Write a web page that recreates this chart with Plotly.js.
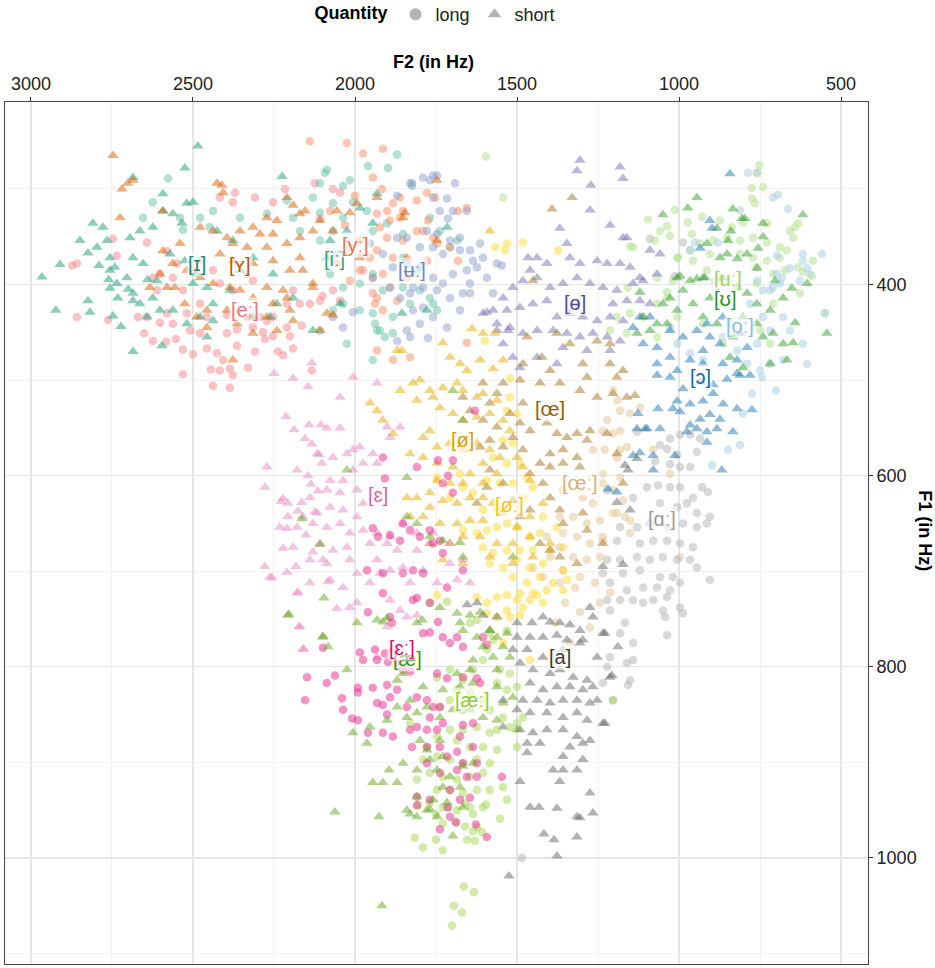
<!DOCTYPE html>
<html><head><meta charset="utf-8">
<script src="https://cdn.plot.ly/plotly-3.0.1.min.js"></script>
<style>html,body{margin:0;padding:0;background:#fff}</style>
</head><body>
<div id="chart" style="width:935px;height:968px"></div>
<script>
// ---- data: [F2, F1] in Hz ----
const I_SHORT = [[2966,392],[2910,379],[2923,427],[2818,429],[2685,470],[2596,464],[2485,255],[2525,278],[2685,288],[2593,305],[2225,287],[2849,354],[2809,336],[2778,340],[2765,354],[2824,367],[2796,361],[2756,372],[2741,382],[2756,385],[2735,399],[2756,404],[2732,414],[2704,393],[2685,409],[2664,420],[2642,434],[2624,414],[2611,396],[2654,378],[2685,372],[2694,351],[2664,344],[2624,340],[2593,323],[2562,326],[2519,315],[2500,314],[2534,336],[2571,368],[2525,375],[2488,389],[2500,399],[2457,403],[2438,420],[2478,434],[2438,438],[2457,455],[2519,441],[2562,427],[2602,427],[2386,406],[2315,434],[2241,420],[2191,414],[2130,448],[2087,372],[2077,354],[1985,320],[1932,305],[2025,344],[1945,336],[1716,340],[1855,430],[1778,427],[2046,420],[2426,344],[2377,354],[2315,372],[2253,389],[2355,385],[2262,434],[2747,433],[2824,417],[2722,444],[2685,417],[2700,405],[2760,395],[2790,380],[2640,395]];
const Y_SHORT = [[2747,265],[2719,300],[2685,291],[2701,294],[2725,330],[2593,323],[2426,294],[2411,296],[2407,304],[2210,309],[2191,317],[2272,330],[2241,333],[2170,326],[2154,323],[2108,333],[2056,323],[2016,325],[1932,309],[1747,291],[1846,325],[2478,340],[2438,344],[2395,351],[2355,344],[2315,340],[2293,347],[2253,347],[2377,357],[2333,361],[2272,361],[2210,357],[2170,351],[2130,344],[2417,368],[2377,375],[2315,378],[2253,375],[2170,372],[2540,357],[2562,378],[2519,385],[2478,393],[2438,399],[2386,403],[2355,406],[2315,414],[2272,403],[2222,406],[2201,385],[2161,385],[2130,399],[2210,414],[2253,420],[2201,427],[2191,438],[2272,434],[2324,434],[2364,441],[2395,427],[2457,427],[2488,434],[2525,420],[2580,403],[2633,403],[2602,389],[2556,403],[2457,445],[2377,479],[2315,451],[2241,448],[2087,430],[2068,432],[2108,448],[2130,403],[1994,315],[1985,372],[2068,344],[1840,372],[1852,330],[1747,354],[2593,365]];
const E_LONG = [[2858,434],[2762,437],[2651,451],[2624,459],[2583,460],[2553,457],[2531,468],[2500,473],[2457,467],[2426,472],[2407,479],[2386,488],[2377,495],[2330,487],[2386,508],[2438,506],[2445,489],[2531,494],[2417,490],[2364,464],[2309,470],[2278,457],[2238,470],[2222,474],[2191,467],[2201,454],[2253,454],[2284,450],[2315,445],[2364,447],[2395,451],[2478,451],[2509,448],[2562,441],[2602,440],[2642,434],[2670,434],[2580,430],[2519,430],[2457,434],[2395,432],[2333,434],[2272,438],[2210,445],[2164,443],[2139,420],[2108,417],[2133,490],[2858,378],[2873,380],[2747,352],[2735,370],[2642,356],[2611,406],[2562,393],[2531,406],[2478,420],[2478,375],[2417,309],[2370,304],[2377,314],[2309,309],[2253,314],[2216,300],[2124,294],[2068,300],[2046,304],[2108,331],[1975,385],[1945,409],[2068,406],[2046,417],[2100,412],[2191,406],[2170,420],[2315,396],[2333,389],[2377,406],[2417,399],[2438,385],[2500,385],[2549,378],[2580,365],[2602,389],[2624,393],[2293,434],[2253,434],[2210,420]];
const I_LONG = [[2577,289],[2624,314],[2540,330],[2654,330],[2531,343],[2478,330],[2448,340],[2087,280],[2093,283],[2037,297],[1960,276],[1898,278],[1870,264],[2016,291],[2068,315],[2108,325],[2006,314],[2037,330],[1963,323],[1945,344],[1901,336],[1852,347],[2068,344],[2108,354],[2016,361],[2056,368],[2077,389],[2037,403],[1985,399],[1945,389],[1914,406],[2037,420],[2068,427],[1985,427],[1945,430],[1932,448],[1883,451],[2025,462],[2108,448],[1830,420],[1800,406],[1759,420],[1707,361],[1738,344],[1769,330],[1809,385],[1852,372],[2170,344],[2191,330],[2210,312],[2130,309],[2272,326],[2355,330],[2438,323],[2108,294],[1824,297],[1938,441],[1923,448],[1945,479],[1908,455],[1883,434],[1769,414],[1747,427],[1685,354],[1852,403]];
const Y_LONG = [[1914,258],[1945,288],[1917,300],[1861,309],[1883,315],[1852,323],[1901,323],[1932,326],[1809,312],[1778,304],[1753,309],[1682,323],[1655,320],[1892,333],[1923,340],[1809,344],[1775,333],[1852,354],[1901,351],[1932,364],[1883,372],[1954,372],[1914,389],[1945,393],[1892,403],[1932,414],[1790,344],[1759,351],[1747,357],[1707,361],[1682,375],[1778,375],[1870,417],[1938,420],[1914,427],[1932,469],[1883,479],[1830,476],[1655,461],[2139,250],[2025,252],[1975,263],[1861,330],[2016,396],[1985,385],[2056,378],[1840,393],[2077,323],[2031,338],[1985,354],[2000,307]];
const U_BAR_LONG = [[1747,286],[1824,294],[1769,291],[1691,294],[1759,309],[1716,310],[1738,323],[1698,323],[1713,331],[1655,323],[1778,344],[1747,347],[1707,354],[1676,351],[1645,364],[1614,357],[1605,372],[1636,375],[1676,364],[1729,368],[1759,361],[1800,361],[1840,351],[1870,351],[1914,368],[1883,382],[1840,378],[1800,382],[1759,393],[1729,399],[1698,389],[1655,385],[1624,382],[1562,378],[1547,380],[1593,393],[1645,399],[1667,409],[1707,414],[1747,406],[1790,403],[1830,409],[1861,414],[1892,403],[1821,427],[1790,424],[1759,434],[1716,445],[1676,427],[1645,409],[1574,409],[1800,441],[1840,448],[1870,459],[1830,455],[1775,456],[1821,403],[1945,393],[1954,357],[2037,445],[2006,429],[2068,434],[1830,294],[1790,288],[1759,286],[1870,307]];
const O_BAR_SHORT = [[1306,270],[1315,281],[1182,277],[1173,289],[1272,296],[1275,322],[1368,341],[1213,338],[1173,351],[1346,357],[1438,372],[1466,372],[1408,378],[1337,372],[1306,378],[1253,375],[1222,378],[1182,378],[1151,382],[1090,364],[1059,368],[1068,389],[1111,396],[1142,399],[1513,403],[1543,414],[1482,396],[1438,393],[1398,403],[1358,399],[1315,393],[1275,399],[1235,403],[1192,406],[1204,420],[1161,417],[1121,417],[1090,420],[1408,417],[1451,420],[1491,424],[1531,427],[1574,427],[1605,430],[1377,434],[1337,430],[1297,434],[1253,438],[1213,434],[1173,438],[1389,448],[1346,451],[1306,455],[1266,451],[1222,455],[1182,459],[1438,448],[1482,451],[1522,445],[1562,448],[1358,466],[1284,469],[1213,469],[1377,483],[1491,487],[1438,476],[1460,385],[1593,429],[1562,441],[1528,448],[1543,462],[1513,476],[1121,393],[1161,351]];
const U_LONG = [[752,275],[759,283],[775,299],[741,298],[775,310],[766,315],[1096,332],[1013,322],[1037,339],[973,335],[960,347],[929,329],[874,333],[837,340],[803,335],[729,336],[1074,354],[1028,349],[935,357],[895,354],[852,351],[812,354],[772,351],[729,356],[689,361],[648,351],[642,340],[633,336],[658,344],[667,364],[1003,372],[957,375],[905,368],[812,368],[772,372],[729,375],[689,372],[633,382],[587,375],[1068,393],[1019,396],[914,385],[874,393],[760,382],[710,389],[673,385],[618,387],[590,391],[1158,403],[1037,408],[760,399],[1142,361],[1596,266],[1543,309],[1059,344],[1151,360],[1006,372],[966,364],[627,409],[550,430],[710,420],[750,448],[719,462],[865,462],[926,441],[1006,434],[1037,414],[1068,420],[1111,434],[1151,430],[1192,434],[1213,448],[1161,451],[1068,455],[874,420]];
const UPS_SHORT = [[945,309],[1050,327],[973,320],[834,321],[806,331],[797,331],[741,336],[618,327],[883,341],[840,344],[849,354],[741,350],[914,357],[874,372],[852,368],[790,368],[756,362],[821,373],[1121,408],[997,391],[945,394],[920,393],[760,383],[704,396],[652,404],[605,399],[544,451],[642,440],[648,461],[679,414],[719,427],[760,420],[790,409],[821,403],[865,393],[926,393],[966,396],[1006,393],[988,406],[1028,414],[1050,420],[1006,427],[957,420],[905,414],[926,434],[883,441],[803,434],[760,441],[741,455],[834,455],[710,451],[679,462],[1068,441],[1111,434],[1090,448],[1130,451],[1037,441],[719,483],[803,487],[843,476],[667,479]];
const O_LONG = [[787,283],[759,283],[710,309],[695,306],[664,321],[812,322],[951,356],[966,364],[880,356],[698,370],[618,368],[559,368],[618,375],[658,383],[596,389],[627,396],[682,393],[710,403],[741,406],[821,403],[889,396],[605,383],[698,389],[689,399],[719,406],[759,396],[781,420],[741,434],[679,434],[658,448],[719,448],[759,462],[821,469],[865,455],[843,441],[679,479],[719,483],[550,430],[790,483],[750,490],[926,479],[966,472],[1006,462],[1028,445],[618,462],[605,483],[701,511],[803,535],[849,573],[812,568],[898,589],[744,497],[775,514]];
const OPEN_O_SHORT = [[1068,495],[1028,497],[988,509],[935,502],[895,505],[852,499],[812,495],[781,495],[1065,530],[1019,530],[966,525],[926,522],[895,514],[864,525],[821,530],[775,531],[1130,551],[1099,551],[1059,551],[997,533],[966,547],[935,541],[905,536],[874,541],[945,551],[914,554],[883,551],[834,554],[976,554],[914,565],[1142,579],[1080,579],[1013,579],[868,594],[1080,594],[1121,576],[1219,614],[1192,617],[1006,522],[843,284],[905,333],[935,362],[898,341],[1090,434],[1028,448],[988,455],[945,448],[905,455],[874,462],[926,469],[966,479],[926,483],[865,483],[821,479],[1028,476],[1068,483],[1111,462],[1121,434],[1142,445],[1068,466],[821,493],[1006,490],[812,451],[865,434],[790,466],[914,441],[1127,535],[1105,551]];
const OE_SHORT = [[1491,500],[1429,503],[1368,503],[1306,511],[1253,518],[1204,514],[1161,518],[1136,516],[1482,524],[1522,535],[1491,545],[1460,553],[1408,545],[1377,556],[1346,560],[1315,556],[1284,563],[1275,553],[1358,573],[1398,577],[1429,587],[1398,591],[1358,587],[1315,581],[1306,591],[1192,577],[1222,556],[1562,514],[1584,524],[1543,503],[1605,503],[1667,518],[1645,532],[1605,542],[1562,549],[1513,560],[1543,570],[1584,563],[1614,570],[1482,573],[1460,598],[1420,608],[1398,623],[1368,636],[1358,650],[1297,639],[1284,657],[1235,671],[1460,636],[1491,643],[1513,626],[1543,608],[1584,594],[1593,612],[1624,629],[1315,692],[1398,678],[1368,685],[1429,671],[1173,608],[1330,309],[1392,321],[1451,396],[1423,476],[1469,455],[1377,451],[1337,462],[1297,483],[1253,459],[1213,462],[1482,483],[1398,490],[1284,497],[1213,483],[1173,490],[1192,497]];
const OSL_SHORT = [[1954,524],[1932,532],[1914,542],[1883,556],[1861,511],[1821,503],[1800,500],[1809,521],[1769,511],[1759,518],[1729,508],[1685,503],[1667,511],[1624,518],[1605,514],[1562,521],[1738,529],[1698,535],[1667,542],[1624,539],[1584,535],[1543,542],[1522,553],[1769,553],[1790,560],[1747,570],[1707,566],[1667,573],[1624,566],[1584,573],[1553,581],[1830,577],[1790,581],[1747,587],[1698,591],[1645,598],[1605,587],[1562,598],[1500,581],[1482,591],[1460,605],[1747,605],[1707,608],[1667,608],[1605,608],[1769,618],[1729,626],[1685,629],[1645,623],[1605,623],[1574,629],[1769,633],[1809,623],[1840,623],[1830,643],[1790,643],[1738,650],[1685,650],[1645,647],[1605,647],[1543,639],[1500,654],[1460,643],[1420,629],[1769,671],[1707,671],[1667,664],[1614,664],[1562,671],[1513,671],[1460,664],[1729,688],[1667,692],[1584,685],[1513,692],[1451,685],[1398,671],[1584,344],[1639,446],[1605,451],[1568,451],[1729,461],[1870,469],[1855,469],[1707,476],[1676,483],[1614,479],[1574,488],[1543,479],[1655,490]];
const OE_LONG = [[1182,532],[1151,535],[1120,529],[1204,556],[1161,570],[1235,608],[1204,615],[1173,626],[1266,629],[1297,623],[1358,615],[1368,643],[1327,643],[1284,650],[1244,647],[1192,639],[1151,647],[1358,660],[1315,664],[1275,671],[1235,668],[1368,675],[1327,685],[1284,688],[1244,685],[1408,664],[1398,685],[1358,699],[1306,706],[1368,712],[1420,706],[1451,696],[1266,573],[1182,573],[1204,511],[1189,521],[1222,542],[1235,553],[1182,553],[1229,573],[1192,581],[1235,598],[1182,602],[1204,639],[1151,660],[1235,664],[1080,573],[1028,598],[997,685],[1167,643],[1352,733],[1306,743],[1275,759],[1337,775],[1383,754],[1244,733],[1213,722],[1260,712],[1321,717]];
const EPS_SHORT = [[2133,482],[2250,493],[2191,498],[2145,507],[2213,538],[2142,547],[2105,547],[2188,552],[2154,561],[2133,567],[2111,578],[2102,587],[2272,591],[2278,612],[2145,600],[2136,609],[2114,616],[2228,627],[2207,629],[2164,628],[2176,637],[2124,638],[2207,643],[2179,654],[2210,655],[2151,662],[2222,676],[2130,680],[2099,688],[2278,695],[2256,707],[2210,701],[2182,695],[2176,722],[2083,711],[2173,758],[2158,781],[2046,518],[2006,497],[1932,503],[2087,550],[2046,550],[2117,577],[2068,581],[2025,577],[2006,573],[1985,570],[1945,577],[1901,549],[1892,560],[1861,549],[1975,587],[1932,587],[2006,594],[2037,605],[2077,605],[2179,594],[2222,624],[2139,623],[2087,615],[2046,618],[1994,615],[1975,629],[1994,643],[2037,636],[2077,633],[2117,639],[2161,643],[2232,654],[2130,650],[2087,654],[2046,650],[2016,660],[1975,657],[1932,660],[1892,664],[1852,650],[1809,660],[1759,660],[2191,675],[2108,671],[2068,678],[2025,675],[1954,671],[1901,671],[1870,678],[1809,678],[1769,671],[1707,671],[2139,688],[2087,692],[2016,688],[1932,688],[1852,696],[1790,699],[1707,692],[1667,688],[2262,706],[2139,712],[2077,709],[2037,717],[1954,712],[1892,699],[1830,712],[1747,712],[1685,709],[1645,712],[1994,702],[1923,702],[2179,723],[2056,739],[2016,738],[1994,733],[1892,730],[1861,741],[1840,748],[1809,746],[2170,758],[2161,782],[1932,790],[1901,758]];
const OSL_LONG = [[1531,532],[1500,535],[1543,563],[1513,566],[1574,581],[1531,587],[1491,587],[1469,602],[1513,608],[1553,608],[1593,605],[1636,618],[1667,612],[1676,598],[1605,636],[1562,636],[1513,626],[1482,623],[1451,612],[1420,643],[1377,654],[1429,660],[1460,664],[1500,654],[1531,650],[1562,654],[1593,657],[1605,675],[1574,681],[1531,678],[1491,678],[1451,678],[1398,678],[1358,675],[1584,692],[1543,696],[1500,688],[1460,696],[1420,692],[1358,699],[1513,706],[1469,712],[1429,706],[1389,712],[1346,709],[1491,723],[1451,723],[1408,720],[1358,720],[1667,657],[1624,660],[1707,623],[1747,602],[1522,518],[1624,727],[1593,733],[1562,727],[1531,725],[1500,730],[1482,738],[1460,730],[1438,725],[1420,733],[1531,741],[1593,744],[1522,748],[1491,746],[1562,748],[1543,775],[1460,793],[1747,725],[1568,361],[1537,364],[1531,357],[1482,356],[1374,364],[1522,498],[1599,459]];
const A_BACK_LONG = [[1130,554],[1059,568],[1028,561],[997,557],[966,557],[935,561],[1037,572],[1006,578],[945,575],[1074,585],[1028,588],[997,591],[966,591],[1099,612],[1065,610],[1028,612],[997,612],[957,623],[929,612],[911,617],[1222,615],[1142,623],[1059,629],[1006,633],[976,629],[945,639],[905,643],[1130,654],[1090,650],[1037,654],[988,650],[945,654],[914,650],[1182,654],[1192,668],[1121,671],[1080,668],[1037,668],[997,671],[957,675],[1222,688],[1182,688],[1130,685],[1090,688],[1050,685],[1006,688],[966,688],[945,696],[1235,702],[1173,702],[1121,699],[1059,706],[1019,706],[905,709],[1213,712],[1161,720],[1111,717],[1068,717],[1028,720],[997,712],[1222,730],[1182,730],[1142,730],[1080,730],[1037,727],[997,738],[1213,741],[1111,733],[1050,741],[988,744],[1167,754],[1043,748],[1182,765],[1142,775],[1037,767],[1213,790],[1161,796],[1142,793],[1222,800],[1151,814],[1158,819],[1235,817],[1204,835],[1485,1000],[1090,352],[988,356],[1013,391]];
const A_SHORT = [[1654,735],[1623,733],[1605,746],[1562,748],[1500,754],[1454,754],[1420,748],[1398,753],[1368,754],[1337,756],[1306,762],[1275,738],[1266,748],[1584,762],[1500,769],[1460,769],[1420,769],[1377,767],[1346,772],[1297,772],[1235,765],[1189,779],[1513,782],[1469,782],[1420,790],[1358,782],[1306,775],[1253,790],[1491,796],[1451,803],[1398,807],[1368,803],[1327,811],[1284,814],[1213,811],[1460,817],[1420,824],[1377,821],[1337,821],[1297,824],[1266,821],[1482,835],[1438,835],[1398,838],[1358,835],[1315,835],[1275,838],[1253,835],[1543,835],[1500,845],[1460,848],[1408,848],[1358,853],[1315,848],[1284,856],[1235,859],[1543,863],[1491,866],[1451,869],[1408,866],[1358,866],[1315,873],[1275,877],[1469,880],[1429,880],[1337,884],[1297,880],[1469,890],[1358,894],[1297,897],[1389,908],[1358,908],[1315,908],[1491,920],[1368,920],[1275,932],[1460,947],[1377,948],[1315,957],[1432,947],[1306,958],[1266,953],[1417,975],[1386,981],[1315,978],[1377,998],[1525,1019],[1130,582],[1167,589],[1158,594],[1192,628],[1151,636],[1235,695],[1173,693],[1229,765],[1207,809],[1229,859]];
const EPS_LONG = [[1630,532],[1744,584],[1914,581],[1809,591],[1908,603],[1698,584],[1713,600],[1729,608],[1698,618],[1945,655],[1929,664],[1892,662],[1861,668],[1852,650],[1830,657],[1800,664],[1769,657],[1759,671],[1738,668],[1963,699],[1914,702],[1852,702],[1821,699],[1790,702],[1716,717],[1729,681],[1667,699],[1914,723],[1960,743],[1892,748],[1886,754],[1821,730],[1809,728],[1769,733],[1744,753],[1790,765],[1769,764],[1729,769],[1707,775],[1685,769],[1667,779],[1605,769],[1593,777],[2099,780],[1985,785],[1975,793],[1938,782],[1908,786],[1883,782],[1852,786],[1932,793],[1898,795],[1870,795],[1852,803],[1830,805],[2148,811],[2087,817],[2062,809],[1991,822],[1991,827],[1945,822],[1901,819],[1870,824],[1892,832],[1747,807],[1716,812],[1667,811],[1624,812],[1614,817],[2154,835],[2040,833],[2037,845],[2009,854],[1991,856],[1932,838],[1914,840],[1901,850],[1840,842],[1809,832],[1778,835],[1759,842],[1738,842],[1769,853],[1729,859],[1809,863],[1830,866],[1778,866],[1747,866],[1667,861],[1636,859],[1960,869],[1914,869],[1883,873],[1824,884],[1778,884],[1738,884],[1676,873],[1636,884],[1778,901],[1716,894],[1685,889],[1667,901],[1624,901],[1738,911],[1685,908],[1655,915],[1624,915],[1547,915],[1809,936],[1769,939],[1707,929],[1676,939],[1645,937],[1713,947],[1707,957],[1809,945],[1738,970],[1688,963],[1627,965],[1593,978]];
const AE_SHORT = [[2207,746],[2099,769],[2083,779],[2025,803],[1932,751],[1994,754],[1914,753],[1901,749],[1809,754],[1793,751],[1738,738],[1685,744],[1676,754],[1645,746],[1614,743],[1584,762],[1562,769],[1531,765],[1543,779],[1605,779],[1624,769],[1667,762],[1522,790],[1574,790],[1636,793],[1645,803],[1685,807],[1830,793],[1852,807],[1870,814],[1790,821],[1729,824],[1676,821],[1636,817],[1562,803],[1562,821],[1513,832],[1830,835],[1870,842],[1840,853],[1809,848],[1778,842],[1738,853],[1698,845],[1645,845],[1605,853],[1562,856],[1543,838],[1500,866],[1901,856],[1954,863],[2006,869],[1963,880],[1800,877],[1738,877],[1778,887],[1729,894],[1769,897],[1852,901],[1809,908],[1747,908],[1707,915],[1667,904],[1636,901],[1895,908],[1945,921],[1914,921],[1870,921],[1809,936],[1759,939],[1729,926],[1676,926],[1716,942],[1667,947],[1840,950],[1778,950],[2062,952],[1809,957],[1747,957],[1926,957],[1830,954],[1769,949],[1698,977],[1917,1050],[2164,645],[2108,672],[2096,728],[2204,745],[2099,768],[1698,511],[1667,542],[2025,594],[1840,602],[1840,643],[1809,650],[1769,664],[1729,668],[1676,670],[1667,685],[1513,685]];
const AE_LONG = [[1769,733],[1716,732],[1645,754],[1624,751],[1584,765],[1574,772],[1531,762],[1593,782],[1605,793],[1553,803],[1522,807],[1562,817],[1531,824],[1500,821],[1636,803],[1667,814],[1707,803],[1747,811],[1685,824],[1645,827],[1605,835],[1584,845],[1543,853],[1667,845],[1707,835],[1738,842],[1624,863],[1667,866],[1707,866],[1584,869],[1562,866],[1522,863],[1747,873],[1685,877],[1645,884],[1605,884],[1562,887],[1500,884],[1778,884],[1790,897],[1747,894],[1707,897],[1667,901],[1624,897],[1584,901],[1605,911],[1645,915],[1685,918],[1729,915],[1769,911],[1809,918],[1747,929],[1707,929],[1667,932],[1624,929],[1584,929],[1543,926],[1769,942],[1729,947],[1685,950],[1645,947],[1605,947],[1531,939],[1204,835],[1830,859],[1500,859],[1482,853],[1805,945],[1716,947],[1660,943],[1596,944],[1553,959],[1636,954],[1691,962],[1660,967],[1623,968],[1750,954],[1729,964],[1636,972],[1608,973],[1815,979],[1750,981],[1654,981],[1630,982],[1790,989],[1729,992],[1664,1030],[1633,1036],[1695,1050],[1670,1057],[1701,1071]];

// vowel labels and their positions (Hz)
const LABEL_TEXT = ['[iː]','[yː]','[ɪ]','[ʏ]','[eː]','[ʉː]','[ɵ]','[uː]','[ʊ]','[oː]','[ɔ]','[œ]','[ø]','[œː]','[ɛ]','[øː]','[ɑː]','[æ]','[ɛː]','[a]','[æː]'];
const LABEL_F2 = [2062,2000,2488,2355,2340,1824,1321,849,858,812,935,1398,1667,1306,1929,1522,1053,1837,1855,1368,1639];
const LABEL_F1 = [373,359,378,380,427,385,419,394,415,443,497,530,563,608,620,631,645,792,780,790,835];
const QUANTITY = ['long','short'];

// ---- styling ----
const LABEL_COLORS = ['#2FA47F','#FC6F3C','#1B8A68','#C5530A','#F2707C','#6E86BE','#4E479E','#9CD262','#2E8E22','#89BEDD',
  '#1A65A0','#8C5C0C','#E39B00','#D8B07A','#D663A9','#FFC400','#9B9B9B','#3F8F0F','#D60E72','#3A3A3A','#8FCB2E'];
const TRACES = [
  [E_LONG,'#F7868C','circle'],[I_LONG,'#66C2A5','circle'],[Y_LONG,'#FC8D62','circle'],
  [U_BAR_LONG,'#8DA0CB','circle'],[U_LONG,'#B2DF8A','circle'],[O_LONG,'#A6CEE3','circle'],
  [OE_LONG,'#E5C494','circle'],[OSL_LONG,'#FFD92F','circle'],[A_BACK_LONG,'#B3B3B3','circle'],
  [I_SHORT,'#1B9E77','triangle-up'],[Y_SHORT,'#D95F02','triangle-up'],[O_BAR_SHORT,'#7570B3','triangle-up'],
  [UPS_SHORT,'#33A02C','triangle-up'],[OPEN_O_SHORT,'#1F78B4','triangle-up'],[OE_SHORT,'#A6761D','triangle-up'],
  [OSL_SHORT,'#E6AB02','triangle-up'],[EPS_SHORT,'#E78AC3','triangle-up'],[A_SHORT,'#666666','triangle-up'],
  [AE_LONG,'#A6D854','circle'],[EPS_LONG,'#E7298A','circle'],[AE_SHORT,'#66A61E','triangle-up']
];

const FONT = '"Liberation Sans", Arial, "DejaVu Sans", sans-serif';
const data = TRACES.map(([pts,color,sym]) => ({
  type:'scatter', mode:'markers', showlegend:false, hoverinfo:'skip',
  x: pts.map(p=>p[0]), y: pts.map(p=>p[1]),
  marker:{symbol:sym, color:color, opacity:0.5, size: sym==='circle'?8.5:10, line:{width:0}}
}));
QUANTITY.forEach((q,i)=>{
  data.push({type:'scatter', mode:'markers', name:q, x:[null], y:[null], showlegend:true,
    marker:{symbol: i===0?'circle':'triangle-up', color:'#777', opacity:0.55, size:8, line:{width:0}}});
});

const annotations = LABEL_TEXT.map((t,i)=>({
  x: LABEL_F2[i], y: LABEL_F1[i], xref:'x', yref:'y', text: t,
  showarrow:false, font:{family:FONT, size:20, color:LABEL_COLORS[i]},
  bgcolor:'rgba(255,255,255,0.6)', borderpad:1
}));
annotations.push({xref:'paper', yref:'paper', x:0.496, y:1.046, text:'<b>F2 (in Hz)</b>', showarrow:false,
  font:{family:FONT, size:18, color:'#000'}, xanchor:'center', yanchor:'middle'});
annotations.push({xref:'paper', yref:'paper', x:1.066, y:0.502, text:'<b>F1 (in Hz)</b>', showarrow:false,
  textangle:90, font:{family:FONT, size:18, color:'#000'}, xanchor:'center', yanchor:'middle'});

const layout = {
  width:935, height:968,
  margin:{l:5, r:67, t:102, b:4, autoexpand:false},
  paper_bgcolor:'#fff', plot_bgcolor:'#fff',
  font:{family:FONT, size:18, color:'#222'},
  xaxis:{side:'top', range:[3080,417], tickvals:[3000,2500,2000,1500,1000,500], ticktext:['3000','2500','2000','1500','1000','500'],
    ticks:'outside', ticklen:4, tickcolor:'#333', tickfont:{size:18, color:'#222'}, automargin:false,
    showgrid:true, gridcolor:'#E6E6E6', gridwidth:1.4,
    minor:{tickvals:[2750,2250,1750,1250,750], showgrid:true, gridcolor:'#EFEFEF', gridwidth:0.8, ticks:''},
    showline:true, mirror:true, linecolor:'#444', linewidth:1, zeroline:false, fixedrange:true},
  yaxis:{side:'right', range:[1111,209], tickvals:[400,600,800,1000], ticktext:['400','600','800','1000'],
    ticks:'outside', ticklen:4, tickcolor:'#333', tickfont:{size:18, color:'#222'}, automargin:false,
    showgrid:true, gridcolor:'#E6E6E6', gridwidth:1.4,
    minor:{tickvals:[300,500,700,900,1100], showgrid:true, gridcolor:'#EFEFEF', gridwidth:0.8, ticks:''},
    showline:true, mirror:true, linecolor:'#444', linewidth:1, zeroline:false, fixedrange:true},
  showlegend:true,
  legend:{orientation:'h', x:0.5, xanchor:'center', y:1.123, yanchor:'top',
    title:{text:'<b>Quantity</b>', side:'left', font:{family:FONT, size:18, color:'#000'}},
    font:{family:FONT, size:18, color:'#222'}, itemsizing:'constant', bgcolor:'rgba(0,0,0,0)'},
  annotations: annotations
};
Plotly.newPlot('chart', data, layout, {staticPlot:true, displayModeBar:false});
</script>
</body></html>
